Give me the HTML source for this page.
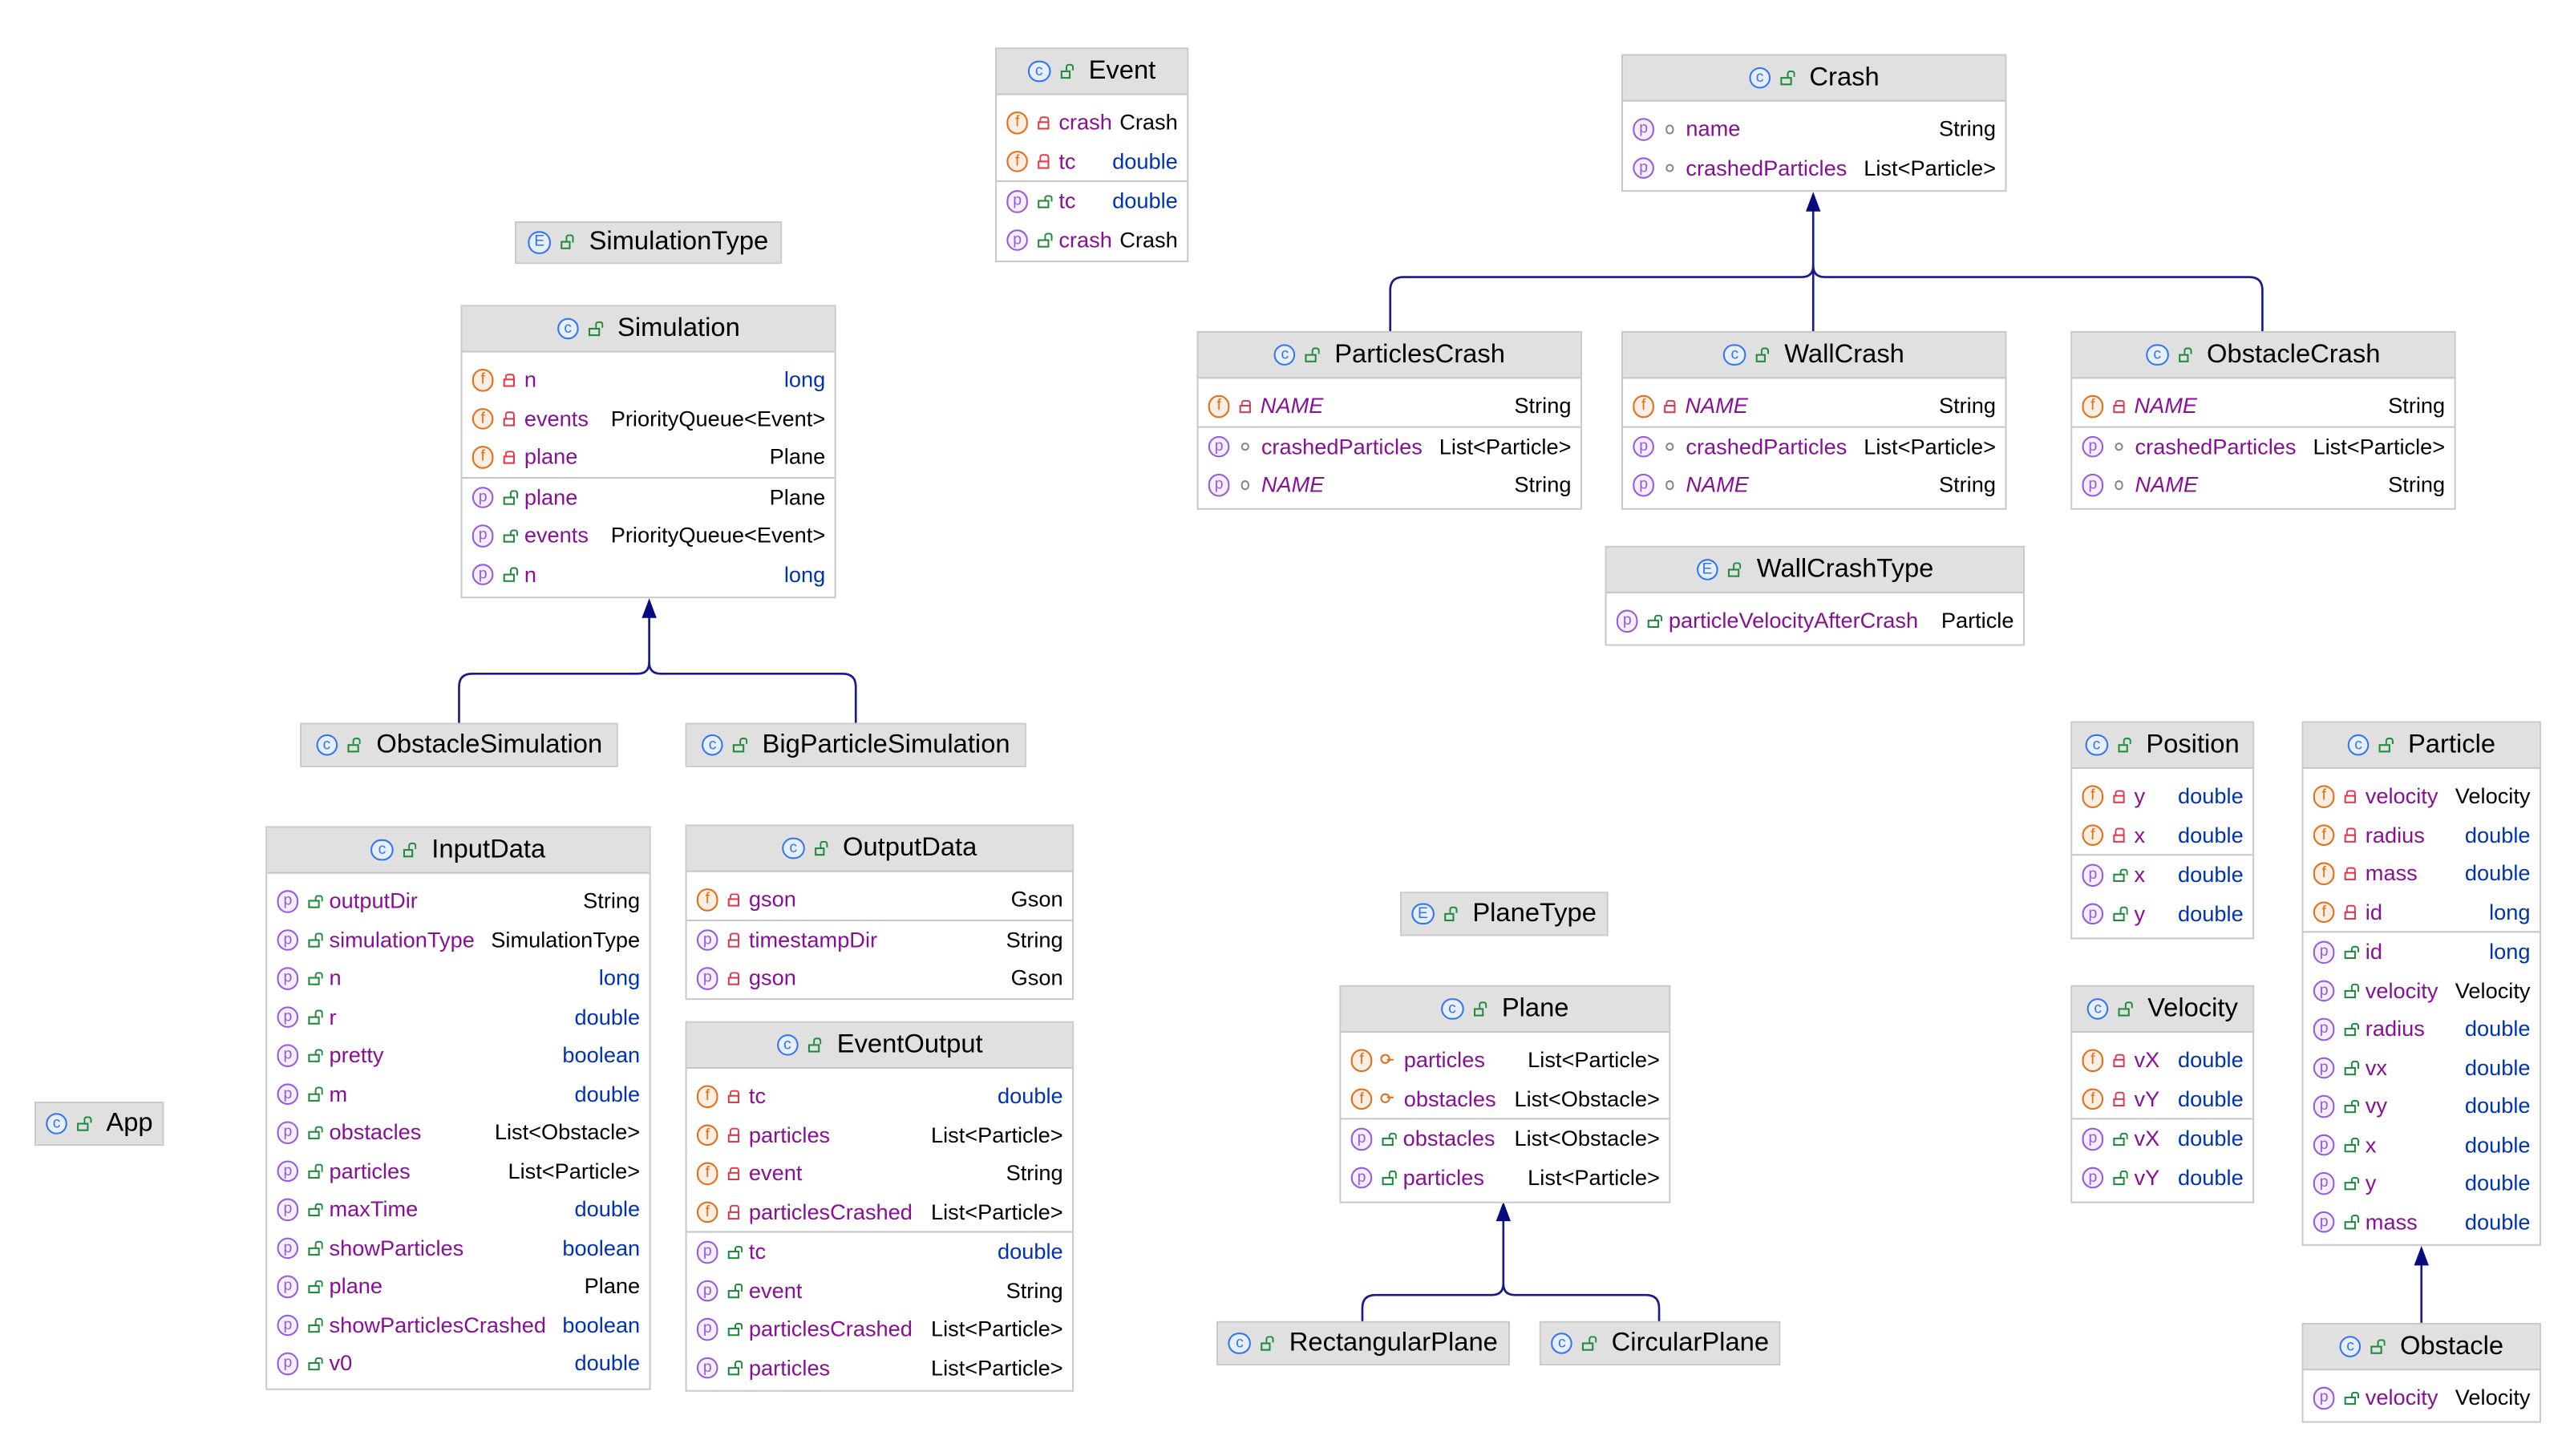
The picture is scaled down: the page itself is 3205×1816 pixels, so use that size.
<!DOCTYPE html>
<html><head><meta charset="utf-8"><style>
*{margin:0;padding:0;box-sizing:border-box}
html,body{width:3205px;height:1815px;background:#fff;overflow:hidden}
#w{position:absolute;left:0;top:0;width:1568px;height:888px;transform:scale(2.0445);transform-origin:0 0;font-family:"Liberation Sans",sans-serif}
.b{position:absolute;border:0.8px solid #c9c9c9;background:#fff}
.h{height:28px;background:#e0e0e0;border-bottom:1.5px solid #c6c6c6;display:flex;align-items:center;justify-content:center;font-size:16px;color:#000;white-space:nowrap}
.ho .h{height:100%;border-bottom:none}
.s{border-bottom:1px solid #c6c6c6}
.h + .s{padding-top:5px}
.s:last-child{border-bottom:none;padding-bottom:4px}
.r{height:23.5px;display:flex;align-items:center;padding:0 5.6px 0 5.8px;font-size:13.3px;white-space:nowrap}
.n{color:#871094;margin-left:6px;flex:1}
.it{font-style:italic}
.t{color:#000;text-align:right}
.bl{color:#0033b3}
.ic{display:inline-block;width:13.5px;height:13.5px;border-radius:50%;border:1.3px solid;font-style:normal;font-size:9.5px;line-height:11px;text-align:center;flex:none}
.c{border-color:#3574f0;color:#3574f0;background:#e7effd}
.f{border-color:#e66d17;color:#e66d17;background:#fdeee3}
.p{border-color:#955ae0;color:#955ae0;background:#f5eefe}
.h .ic{margin-right:6px}
.lk{display:inline-block;position:relative;width:6.5px;height:5px;border:1.2px solid;margin-left:6px;margin-top:4px;flex:none}
.lk:before{content:"";position:absolute;left:0.3px;top:-4.6px;width:3px;height:3.5px;border:1.1px solid;border-bottom:none;border-radius:2px 2px 0 0}
.pr{color:#db3b4b}
.pr:before{left:0.2px;width:4px}
.pu{color:#208a3c}
.pu:before{left:2.4px}
.h .lk{margin:3px 11px 0 0}
.pk{display:inline-block;width:5.5px;height:5.5px;border:1.1px solid #818594;border-radius:50%;margin-left:6.5px;margin-right:1px;flex:none}
.pt{display:inline-block;width:7.5px;height:4px;position:relative;margin-left:5.5px;flex:none;color:#e66d17}
.pt:before{content:"";position:absolute;left:-1px;top:-1.5px;width:4px;height:4px;border:1.1px solid #e66d17;border-radius:50%}
.pt:after{content:"";position:absolute;left:3.5px;top:1px;width:4px;height:0;border-top:1.1px solid #e66d17}
</style></head><body><div id="w">
<svg width="1568" height="888" style="position:absolute;left:0;top:0" fill="none" stroke="#1a1a8a" stroke-width="1.3">
<path d="M396 370 V404 Q396 411 389 411 H288 Q280 411 280 419 V441"/>
<path d="M396 404 Q396 411 403 411 H514 Q522 411 522 419 V441"/>
<polygon points="396,365 391.5,377 400.5,377" fill="#0a0a80" stroke="none"/>
<path d="M1106 122 V162 Q1106 169 1099 169 H856 Q848 169 848 177 V202"/>
<path d="M1106 162 Q1106 169 1113 169 H1372 Q1380 169 1380 177 V202"/>
<path d="M1106 162 V202"/>
<polygon points="1106,117 1101.5,129 1110.5,129" fill="#0a0a80" stroke="none"/>
<path d="M917 738 V783 Q917 790 910 790 H839 Q831 790 831 798 V806"/>
<path d="M917 783 Q917 790 924 790 H1004 Q1012 790 1012 798 V806"/>
<polygon points="917,733 912.5,745 921.5,745" fill="#0a0a80" stroke="none"/>
<path d="M1477 765 V807"/>
<polygon points="1477,760 1472.5,772 1481.5,772" fill="#0a0a80" stroke="none"/>
</svg>

<div class="b" style="left:607px;top:29px;width:118px;height:131px"><div class="h"><i class="ic c">c</i><i class="lk pu"></i>Event</div>
<div class="s"><div class="r"><i class="ic f">f</i><i class="lk pr"></i><span class="n">crash</span><span class="t">Crash</span></div><div class="r"><i class="ic f">f</i><i class="lk pr"></i><span class="n">tc</span><span class="t bl">double</span></div></div>
<div class="s"><div class="r"><i class="ic p">p</i><i class="lk pu"></i><span class="n">tc</span><span class="t bl">double</span></div><div class="r"><i class="ic p">p</i><i class="lk pu"></i><span class="n">crash</span><span class="t">Crash</span></div></div></div>

<div class="b" style="left:989px;top:33px;width:235px;height:84px"><div class="h"><i class="ic c">c</i><i class="lk pu"></i>Crash</div>
<div class="s"><div class="r"><i class="ic p">p</i><i class="pk"></i><span class="n">name</span><span class="t">String</span></div><div class="r"><i class="ic p">p</i><i class="pk"></i><span class="n">crashedParticles</span><span class="t">List&lt;Particle&gt;</span></div></div></div>

<div class="b ho" style="left:314px;top:135px;width:163px;height:26px"><div class="h"><i class="ic c">E</i><i class="lk pu"></i>SimulationType</div></div>

<div class="b" style="left:281px;top:186px;width:229px;height:179px"><div class="h"><i class="ic c">c</i><i class="lk pu"></i>Simulation</div>
<div class="s"><div class="r"><i class="ic f">f</i><i class="lk pr"></i><span class="n">n</span><span class="t bl">long</span></div><div class="r"><i class="ic f">f</i><i class="lk pr"></i><span class="n">events</span><span class="t">PriorityQueue&lt;Event&gt;</span></div><div class="r"><i class="ic f">f</i><i class="lk pr"></i><span class="n">plane</span><span class="t">Plane</span></div></div>
<div class="s"><div class="r"><i class="ic p">p</i><i class="lk pu"></i><span class="n">plane</span><span class="t">Plane</span></div><div class="r"><i class="ic p">p</i><i class="lk pu"></i><span class="n">events</span><span class="t">PriorityQueue&lt;Event&gt;</span></div><div class="r"><i class="ic p">p</i><i class="lk pu"></i><span class="n">n</span><span class="t bl">long</span></div></div></div>

<div class="b" style="left:730px;top:202px;width:235px;height:109px"><div class="h"><i class="ic c">c</i><i class="lk pu"></i>ParticlesCrash</div>
<div class="s"><div class="r"><i class="ic f">f</i><i class="lk pr"></i><span class="n it">NAME</span><span class="t">String</span></div></div>
<div class="s"><div class="r"><i class="ic p">p</i><i class="pk"></i><span class="n">crashedParticles</span><span class="t">List&lt;Particle&gt;</span></div><div class="r"><i class="ic p">p</i><i class="pk"></i><span class="n it">NAME</span><span class="t">String</span></div></div></div>

<div class="b" style="left:989px;top:202px;width:235px;height:109px"><div class="h"><i class="ic c">c</i><i class="lk pu"></i>WallCrash</div>
<div class="s"><div class="r"><i class="ic f">f</i><i class="lk pr"></i><span class="n it">NAME</span><span class="t">String</span></div></div>
<div class="s"><div class="r"><i class="ic p">p</i><i class="pk"></i><span class="n">crashedParticles</span><span class="t">List&lt;Particle&gt;</span></div><div class="r"><i class="ic p">p</i><i class="pk"></i><span class="n it">NAME</span><span class="t">String</span></div></div></div>

<div class="b" style="left:1263px;top:202px;width:235px;height:109px"><div class="h"><i class="ic c">c</i><i class="lk pu"></i>ObstacleCrash</div>
<div class="s"><div class="r"><i class="ic f">f</i><i class="lk pr"></i><span class="n it">NAME</span><span class="t">String</span></div></div>
<div class="s"><div class="r"><i class="ic p">p</i><i class="pk"></i><span class="n">crashedParticles</span><span class="t">List&lt;Particle&gt;</span></div><div class="r"><i class="ic p">p</i><i class="pk"></i><span class="n it">NAME</span><span class="t">String</span></div></div></div>

<div class="b" style="left:979px;top:333px;width:256px;height:61px"><div class="h"><i class="ic c">E</i><i class="lk pu"></i>WallCrashType</div>
<div class="s"><div class="r"><i class="ic p">p</i><i class="lk pu"></i><span class="n">particleVelocityAfterCrash</span><span class="t">Particle</span></div></div></div>

<div class="b ho" style="left:183px;top:441px;width:194px;height:27px"><div class="h"><i class="ic c">c</i><i class="lk pu"></i>ObstacleSimulation</div></div>
<div class="b ho" style="left:418px;top:441px;width:208px;height:27px"><div class="h"><i class="ic c">c</i><i class="lk pu"></i>BigParticleSimulation</div></div>

<div class="b" style="left:162px;top:504px;width:235px;height:344px"><div class="h"><i class="ic c">c</i><i class="lk pu"></i>InputData</div>
<div class="s">
<div class="r"><i class="ic p">p</i><i class="lk pu"></i><span class="n">outputDir</span><span class="t">String</span></div>
<div class="r"><i class="ic p">p</i><i class="lk pu"></i><span class="n">simulationType</span><span class="t">SimulationType</span></div>
<div class="r"><i class="ic p">p</i><i class="lk pu"></i><span class="n">n</span><span class="t bl">long</span></div>
<div class="r"><i class="ic p">p</i><i class="lk pu"></i><span class="n">r</span><span class="t bl">double</span></div>
<div class="r"><i class="ic p">p</i><i class="lk pu"></i><span class="n">pretty</span><span class="t bl">boolean</span></div>
<div class="r"><i class="ic p">p</i><i class="lk pu"></i><span class="n">m</span><span class="t bl">double</span></div>
<div class="r"><i class="ic p">p</i><i class="lk pu"></i><span class="n">obstacles</span><span class="t">List&lt;Obstacle&gt;</span></div>
<div class="r"><i class="ic p">p</i><i class="lk pu"></i><span class="n">particles</span><span class="t">List&lt;Particle&gt;</span></div>
<div class="r"><i class="ic p">p</i><i class="lk pu"></i><span class="n">maxTime</span><span class="t bl">double</span></div>
<div class="r"><i class="ic p">p</i><i class="lk pu"></i><span class="n">showParticles</span><span class="t bl">boolean</span></div>
<div class="r"><i class="ic p">p</i><i class="lk pu"></i><span class="n">plane</span><span class="t">Plane</span></div>
<div class="r"><i class="ic p">p</i><i class="lk pu"></i><span class="n">showParticlesCrashed</span><span class="t bl">boolean</span></div>
<div class="r"><i class="ic p">p</i><i class="lk pu"></i><span class="n">v0</span><span class="t bl">double</span></div>
</div></div>

<div class="b" style="left:418px;top:503px;width:237px;height:107px"><div class="h"><i class="ic c">c</i><i class="lk pu"></i>OutputData</div>
<div class="s"><div class="r"><i class="ic f">f</i><i class="lk pr"></i><span class="n">gson</span><span class="t">Gson</span></div></div>
<div class="s"><div class="r"><i class="ic p">p</i><i class="lk pr"></i><span class="n">timestampDir</span><span class="t">String</span></div><div class="r"><i class="ic p">p</i><i class="lk pr"></i><span class="n">gson</span><span class="t">Gson</span></div></div></div>

<div class="b" style="left:418px;top:623px;width:237px;height:226px"><div class="h"><i class="ic c">c</i><i class="lk pu"></i>EventOutput</div>
<div class="s">
<div class="r"><i class="ic f">f</i><i class="lk pr"></i><span class="n">tc</span><span class="t bl">double</span></div>
<div class="r"><i class="ic f">f</i><i class="lk pr"></i><span class="n">particles</span><span class="t">List&lt;Particle&gt;</span></div>
<div class="r"><i class="ic f">f</i><i class="lk pr"></i><span class="n">event</span><span class="t">String</span></div>
<div class="r"><i class="ic f">f</i><i class="lk pr"></i><span class="n">particlesCrashed</span><span class="t">List&lt;Particle&gt;</span></div></div>
<div class="s">
<div class="r"><i class="ic p">p</i><i class="lk pu"></i><span class="n">tc</span><span class="t bl">double</span></div>
<div class="r"><i class="ic p">p</i><i class="lk pu"></i><span class="n">event</span><span class="t">String</span></div>
<div class="r"><i class="ic p">p</i><i class="lk pu"></i><span class="n">particlesCrashed</span><span class="t">List&lt;Particle&gt;</span></div>
<div class="r"><i class="ic p">p</i><i class="lk pu"></i><span class="n">particles</span><span class="t">List&lt;Particle&gt;</span></div></div></div>

<div class="b ho" style="left:21px;top:672px;width:79px;height:27px"><div class="h"><i class="ic c">c</i><i class="lk pu"></i>App</div></div>

<div class="b ho" style="left:854px;top:544px;width:127px;height:27px"><div class="h"><i class="ic c">E</i><i class="lk pu"></i>PlaneType</div></div>

<div class="b" style="left:817px;top:601px;width:202px;height:133px"><div class="h"><i class="ic c">c</i><i class="lk pu"></i>Plane</div>
<div class="s"><div class="r"><i class="ic f">f</i><i class="pt"></i><span class="n">particles</span><span class="t">List&lt;Particle&gt;</span></div><div class="r"><i class="ic f">f</i><i class="pt"></i><span class="n">obstacles</span><span class="t">List&lt;Obstacle&gt;</span></div></div>
<div class="s"><div class="r"><i class="ic p">p</i><i class="lk pu"></i><span class="n">obstacles</span><span class="t">List&lt;Obstacle&gt;</span></div><div class="r"><i class="ic p">p</i><i class="lk pu"></i><span class="n">particles</span><span class="t">List&lt;Particle&gt;</span></div></div></div>

<div class="b ho" style="left:742px;top:806px;width:179px;height:27px"><div class="h"><i class="ic c">c</i><i class="lk pu"></i>RectangularPlane</div></div>
<div class="b ho" style="left:939px;top:806px;width:147px;height:27px"><div class="h"><i class="ic c">c</i><i class="lk pu"></i>CircularPlane</div></div>

<div class="b" style="left:1263px;top:440px;width:112px;height:133px"><div class="h"><i class="ic c">c</i><i class="lk pu"></i>Position</div>
<div class="s"><div class="r"><i class="ic f">f</i><i class="lk pr"></i><span class="n">y</span><span class="t bl">double</span></div><div class="r"><i class="ic f">f</i><i class="lk pr"></i><span class="n">x</span><span class="t bl">double</span></div></div>
<div class="s"><div class="r"><i class="ic p">p</i><i class="lk pu"></i><span class="n">x</span><span class="t bl">double</span></div><div class="r"><i class="ic p">p</i><i class="lk pu"></i><span class="n">y</span><span class="t bl">double</span></div></div></div>

<div class="b" style="left:1263px;top:601px;width:112px;height:133px"><div class="h"><i class="ic c">c</i><i class="lk pu"></i>Velocity</div>
<div class="s"><div class="r"><i class="ic f">f</i><i class="lk pr"></i><span class="n">vX</span><span class="t bl">double</span></div><div class="r"><i class="ic f">f</i><i class="lk pr"></i><span class="n">vY</span><span class="t bl">double</span></div></div>
<div class="s"><div class="r"><i class="ic p">p</i><i class="lk pu"></i><span class="n">vX</span><span class="t bl">double</span></div><div class="r"><i class="ic p">p</i><i class="lk pu"></i><span class="n">vY</span><span class="t bl">double</span></div></div></div>

<div class="b" style="left:1404px;top:440px;width:146px;height:320px"><div class="h"><i class="ic c">c</i><i class="lk pu"></i>Particle</div>
<div class="s">
<div class="r"><i class="ic f">f</i><i class="lk pr"></i><span class="n">velocity</span><span class="t">Velocity</span></div>
<div class="r"><i class="ic f">f</i><i class="lk pr"></i><span class="n">radius</span><span class="t bl">double</span></div>
<div class="r"><i class="ic f">f</i><i class="lk pr"></i><span class="n">mass</span><span class="t bl">double</span></div>
<div class="r"><i class="ic f">f</i><i class="lk pr"></i><span class="n">id</span><span class="t bl">long</span></div></div>
<div class="s">
<div class="r"><i class="ic p">p</i><i class="lk pu"></i><span class="n">id</span><span class="t bl">long</span></div>
<div class="r"><i class="ic p">p</i><i class="lk pu"></i><span class="n">velocity</span><span class="t">Velocity</span></div>
<div class="r"><i class="ic p">p</i><i class="lk pu"></i><span class="n">radius</span><span class="t bl">double</span></div>
<div class="r"><i class="ic p">p</i><i class="lk pu"></i><span class="n">vx</span><span class="t bl">double</span></div>
<div class="r"><i class="ic p">p</i><i class="lk pu"></i><span class="n">vy</span><span class="t bl">double</span></div>
<div class="r"><i class="ic p">p</i><i class="lk pu"></i><span class="n">x</span><span class="t bl">double</span></div>
<div class="r"><i class="ic p">p</i><i class="lk pu"></i><span class="n">y</span><span class="t bl">double</span></div>
<div class="r"><i class="ic p">p</i><i class="lk pu"></i><span class="n">mass</span><span class="t bl">double</span></div></div></div>

<div class="b" style="left:1404px;top:807px;width:146px;height:61px"><div class="h"><i class="ic c">c</i><i class="lk pu"></i>Obstacle</div>
<div class="s"><div class="r"><i class="ic p">p</i><i class="lk pu"></i><span class="n">velocity</span><span class="t">Velocity</span></div></div></div>
</div></body></html>
